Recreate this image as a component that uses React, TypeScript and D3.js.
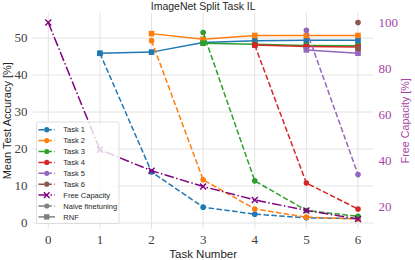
import React from 'react';
import * as d3 from 'd3';

const taskNumbers = [0, 1, 2, 3, 4, 5, 6];
const taskLabels = ['Task 1', 'Task 2', 'Task 3', 'Task 4', 'Task 5', 'Task 6'];
const freeCapacity = [100, 44.7, 35.6, 28.7, 22.9, 18.3, 14.6];

// naive finetuning accuracy of task i, evaluated from task number i+1 on
const naiveAcc = [
  [45.9, 13.8, 4.3, 2.4, 1.4, 1.2],
  [49.3, 11.7, 3.8, 1.6, 1.1],
  [51.5, 11.4, 3.4, 1.8],
  [48.1, 10.8, 3.8],
  [52.1, 13.1],
  [54.2],
];

// RNF accuracy of task i, evaluated from task number i+1 on
const rnfAcc = [
  [45.9, 46.2, 48.8, 49.3, 49.4, 49.4],
  [51.2, 49.7, 50.7, 50.7, 50.7],
  [48.6, 48.3, 48.0, 47.9],
  [48.1, 47.7, 47.6],
  [46.8, 45.9],
  [47.2],
];

const accTicks = [0, 10, 20, 30, 40, 50];
const capTicks = [20, 40, 60, 80, 100];

const palette = ['#1f77b4', '#ff7f0e', '#2ca02c', '#d62728', '#9467bd', '#8c564b'];
const capColor = '#800080';
const capText = '#a545a5';
const gridColor = '#e3e3e3';
const textColor = '#262626';
const tickColor = '#404040';
const dash = '5.5,2.4';
const dashDot = '9.6,2.4,1.5,2.4';

const width = 415;
const height = 260;
const plot = { left: 32.8, right: 373.5, top: 12.7, bottom: 228.8 };

const padded = (lo: number, hi: number): [number, number] => {
  const m = (hi - lo) * 0.05;
  return [lo - m, hi + m];
};

type Pt = [number, number];

const XMark = ({ x, y, s, color }: { x: number; y: number; s: number; color: string }) => (
  <path d={`M${x - s},${y - s}L${x + s},${y + s}M${x - s},${y + s}L${x + s},${y - s}`} stroke={color} strokeWidth={1.4} />
);

export default function App() {
  const x = d3.scaleLinear().domain(padded(0, 6)).range([plot.left, plot.right]);
  const allAcc = [...naiveAcc.flat(), ...rnfAcc.flat()];
  const yAcc = d3
    .scaleLinear()
    .domain(padded(d3.min(allAcc) as number, d3.max(allAcc) as number))
    .range([plot.bottom, plot.top]);
  const yCap = d3
    .scaleLinear()
    .domain(padded(d3.min(freeCapacity) as number, d3.max(freeCapacity) as number))
    .range([plot.bottom, plot.top]);

  const line = d3.line<Pt>().x((d) => d[0]).y((d) => d[1]);
  const toPts = (vals: number[], start: number, y: d3.ScaleLinear<number, number>): Pt[] =>
    vals.map((v, j) => [x(start + j), y(v)]);

  const capPts: Pt[] = freeCapacity.map((v, i) => [x(taskNumbers[i]), yCap(v)]);

  const legendItems = [
    ...taskLabels.map((t, i) => ({ label: t, color: palette[i], dashArr: dash, marker: 'circle' })),
    { label: 'Free Capacity', color: capColor, dashArr: dashDot, marker: 'x' },
    { label: 'Naive finetuning', color: '#808080', dashArr: dash, marker: 'circle' },
    { label: 'RNF', color: '#808080', dashArr: undefined, marker: 'square' },
  ];
  const leg = { x: 36.5, y: 122, w: 82.5, h: 101.5, row0: 129.7, step: 10.9 };

  return (
    <svg width={width} height={height} style={{ position: 'absolute', left: 0, top: 0 }}>
      <rect width={width} height={height} fill="white" />
      {/* grid */}
      {accTicks.map((t) => (
        <line key={'gy' + t} x1={plot.left} x2={plot.right} y1={yAcc(t)} y2={yAcc(t)} stroke={gridColor} strokeWidth={1} />
      ))}
      {taskNumbers.map((t) => (
        <line key={'gx' + t} x1={x(t)} x2={x(t)} y1={plot.top} y2={plot.bottom} stroke={gridColor} strokeWidth={1} />
      ))}

      {/* tick labels */}
      <g fontFamily="'Liberation Serif', serif" fontSize={13} fill={tickColor}>
        {accTicks.map((t) => (
          <text key={'ly' + t} x={27.5} y={yAcc(t)} dy="0.33em" textAnchor="end">{t}</text>
        ))}
        {taskNumbers.map((t) => (
          <text key={'lx' + t} x={x(t)} y={243.5} textAnchor="middle">{t}</text>
        ))}
        {capTicks.map((t) => (
          <text key={'lc' + t} x={378.5} y={yCap(t)} dy="0.33em" fill={capText}>{t}</text>
        ))}
      </g>

      {/* task curves */}
      {naiveAcc.map((vals, i) => {
        const nPts = toPts(vals, i + 1, yAcc);
        const rPts = toPts(rnfAcc[i], i + 1, yAcc);
        const c = palette[i];
        return (
          <g key={'task' + i}>
            <path d={line(nPts) || ''} fill="none" stroke={c} strokeWidth={1.5} strokeDasharray={dash} />
            {nPts.map((p, j) => (
              <circle key={'n' + j} cx={p[0]} cy={p[1]} r={2.8} fill={c} />
            ))}
            <path d={line(rPts) || ''} fill="none" stroke={c} strokeWidth={1.5} />
            {rPts.map((p, j) => (
              <rect key={'r' + j} x={p[0] - 2.8} y={p[1] - 2.8} width={5.6} height={5.6} fill={c} />
            ))}
          </g>
        );
      })}

      {/* free capacity on the twin axis */}
      <path d={line(capPts) || ''} fill="none" stroke={capColor} strokeWidth={1.5} strokeDasharray={dashDot} />
      {capPts.map((p, j) => (
        <XMark key={'c' + j} x={p[0]} y={p[1]} s={3} color={capColor} />
      ))}

      {/* legend */}
      <rect x={leg.x} y={leg.y} width={leg.w} height={leg.h} rx={2} fill="white" fillOpacity={0.8} stroke="#cccccc" strokeOpacity={0.8} strokeWidth={0.8} />
      <g fontFamily="'Liberation Sans', sans-serif" fontSize={7.5} fill={textColor}>
        {legendItems.map((it, i) => {
          const cy = leg.row0 + i * leg.step;
          const x0 = 38.5;
          const x1 = 55;
          const mx = (x0 + x1) / 2;
          return (
            <g key={'leg' + i}>
              <line x1={x0} x2={x1} y1={cy} y2={cy} stroke={it.color} strokeWidth={1.5} strokeDasharray={it.dashArr} />
              {it.marker === 'circle' && <circle cx={mx} cy={cy} r={2.6} fill={it.color} />}
              {it.marker === 'square' && <rect x={mx - 2.7} y={cy - 2.7} width={5.4} height={5.4} fill={it.color} />}
              {it.marker === 'x' && <XMark x={mx} y={cy} s={2.8} color={it.color} />}
              <text x={63.3} y={cy} dy="0.35em">{it.label}</text>
            </g>
          );
        })}
      </g>

      {/* titles */}
      <g fontFamily="'Liberation Sans', sans-serif" fill={textColor}>
        <text x={(plot.left + plot.right) / 2} y={9.5} textAnchor="middle" fontSize={10.5}>ImageNet Split Task IL</text>
        <text x={(plot.left + plot.right) / 2} y={257.5} textAnchor="middle" fontSize={11.5}>Task Number</text>
        <text
          transform={`translate(10.5,${(plot.top + plot.bottom) / 2}) rotate(-90)`}
          textAnchor="middle"
          fontSize={11}
        >
          Mean Test Accuracy [%]
        </text>
        <text
          transform={`translate(409,${(plot.top + plot.bottom) / 2}) rotate(-90)`}
          textAnchor="middle"
          fontSize={10.7}
          fill={capText}
        >
          Free Capacity [%]
        </text>
      </g>
    </svg>
  );
}
